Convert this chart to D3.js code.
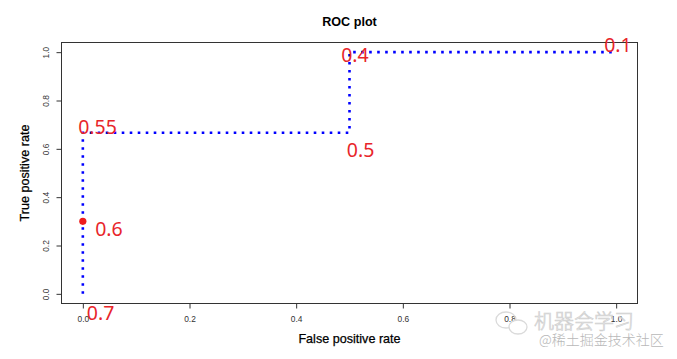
<!DOCTYPE html>
<html>
<head>
<meta charset="utf-8">
<script src="https://cdn.jsdelivr.net/npm/d3@7"></script>
<style>
  html, body { margin: 0; padding: 0; background: #fff; }
  svg { display: block; }
</style>
</head>
<body>
<svg id="chart" width="677" height="359"></svg>
<script>
// ---- data ----
const fprValues = [0, 0, 0.5, 0.5, 1];
const tprValues = [0, 0.6667, 0.6667, 1, 1];
const cutoffX = [0, 0, 0, 0.5, 0.5, 1];
const cutoffY = [0, 0.3, 0.6667, 0.6667, 1, 1];
const cutoffText = ["0.7", "0.6", "0.55", "0.5", "0.4", "0.1"];
const xTicks = [0, 0.2, 0.4, 0.6, 0.8, 1.0];
const yTicks = [0, 0.2, 0.4, 0.6, 0.8, 1.0];
const markerX = [0];
const markerY = [0.3];

// ---- layout / style (kept separate from data) ----
const labelDx = [4, 12.3, -4.7, -2.7, -8.3, -12];
const labelDy = [26, 15, 1, 24, 10, 0];
const plot = { left: 61.5, right: 637.5, top: 42.5, bottom: 303.5 };

const svg = d3.select("#chart");
const x = d3.scaleLinear().domain([-0.04, 1.04]).range([plot.left, plot.right]);
const y = d3.scaleLinear().domain([-0.04, 1.04]).range([plot.bottom, plot.top]);

// box
svg.append("rect")
  .attr("x", plot.left).attr("y", plot.top)
  .attr("width", plot.right - plot.left).attr("height", plot.bottom - plot.top)
  .attr("fill", "none").attr("stroke", "#333").attr("stroke-width", 1);

// x axis
const gx = svg.append("g").attr("transform", `translate(0,${plot.bottom})`)
  .call(d3.axisBottom(x).tickValues(xTicks).tickFormat(d3.format(".1f")).tickSize(5).tickSizeOuter(0));
gx.select(".domain").remove();
gx.selectAll(".tick line").attr("stroke", "#333");
gx.selectAll(".tick text")
  .attr("y", 18.5).attr("dy", null)
  .attr("font-family", "Liberation Sans, Arial, sans-serif")
  .attr("font-size", 8.4).attr("fill", "#333");

// y axis
const gy = svg.append("g").attr("transform", `translate(${plot.left},0)`)
  .call(d3.axisLeft(y).tickValues(yTicks).tickFormat(d3.format(".1f")).tickSize(5).tickSizeOuter(0));
gy.select(".domain").remove();
gy.selectAll(".tick line").attr("stroke", "#333");
gy.selectAll(".tick text")
  .attr("x", null).attr("dy", null)
  .attr("text-anchor", "middle")
  .attr("transform", "translate(-12.5,0) rotate(-90)")
  .attr("font-family", "Liberation Sans, Arial, sans-serif")
  .attr("font-size", 8.4).attr("fill", "#333");

// title and axis labels
svg.append("text")
  .attr("x", (plot.left + plot.right) / 2).attr("y", 26)
  .attr("text-anchor", "middle")
  .attr("font-family", "Liberation Sans, Arial, sans-serif")
  .attr("font-size", 12.6).attr("font-weight", "bold").attr("fill", "#000")
  .text("ROC plot");
svg.append("text")
  .attr("x", (plot.left + plot.right) / 2).attr("y", 343)
  .attr("text-anchor", "middle")
  .attr("font-family", "Liberation Sans, Arial, sans-serif")
  .attr("font-size", 12.6).attr("fill", "#000")
  .attr("stroke", "#000").attr("stroke-width", 0.25)
  .text("False positive rate");
svg.append("text")
  .attr("transform", `translate(28.5,${(plot.top + plot.bottom) / 2}) rotate(-90)`)
  .attr("text-anchor", "middle")
  .attr("font-family", "Liberation Sans, Arial, sans-serif")
  .attr("font-size", 12.6).attr("fill", "#000")
  .attr("stroke", "#000").attr("stroke-width", 0.25)
  .text("True positive rate");

// ROC curve
const curve = fprValues.map((v, i) => [v, tprValues[i]]);
svg.append("path")
  .datum(curve)
  .attr("d", d3.line().x(d => x(d[0])).y(d => y(d[1])))
  .attr("fill", "none")
  .attr("stroke", "#0000ff")
  .attr("stroke-width", 2.6)
  .attr("stroke-dasharray", "2.6,5.4");

// marker point
svg.selectAll("circle.marker")
  .data(markerX.map((v, i) => [v, markerY[i]]))
  .enter().append("circle")
  .attr("class", "marker")
  .attr("cx", d => x(d[0])).attr("cy", d => y(d[1]))
  .attr("r", 3.6).attr("fill", "#ee1c1c");

// cutoff labels
svg.selectAll("text.cutoff")
  .data(cutoffText.map((t, i) => ({ t, x: cutoffX[i], y: cutoffY[i], dx: labelDx[i], dy: labelDy[i] })))
  .enter().append("text")
  .attr("class", "cutoff")
  .attr("x", d => x(d.x) + d.dx).attr("y", d => y(d.y) + d.dy)
  .attr("font-family", "Noto Sans, Open Sans, sans-serif")
  .attr("font-size", 19.5).attr("fill", "#e8252a")
  .text(d => d.t);

// watermark
const wm = svg.append("g");
wm.append("ellipse").attr("cx", 506).attr("cy", 320).attr("rx", 10).attr("ry", 8)
  .attr("fill", "none").attr("stroke", "#dadada").attr("stroke-width", 1.3);
wm.append("ellipse").attr("cx", 518).attr("cy", 327).attr("rx", 9).attr("ry", 7)
  .attr("fill", "#fff").attr("stroke", "#dadada").attr("stroke-width", 1.3);
wm.append("text").attr("x", 534).attr("y", 329)
  .attr("font-family", "Noto Sans CJK SC, sans-serif")
  .attr("font-size", 20).attr("font-weight", 300)
  .attr("fill", "#fff").attr("fill-opacity", 0.6)
  .attr("stroke", "#cfcfcf").attr("stroke-width", 0.7)
  .text("机器会学习");
wm.append("text").attr("x", 539).attr("y", 345)
  .attr("font-family", "Noto Sans CJK SC, sans-serif")
  .attr("font-size", 14).attr("font-weight", 300).attr("fill", "#b8b8b8")
  .text("@稀土掘金技术社区");
</script>
</body>
</html>
